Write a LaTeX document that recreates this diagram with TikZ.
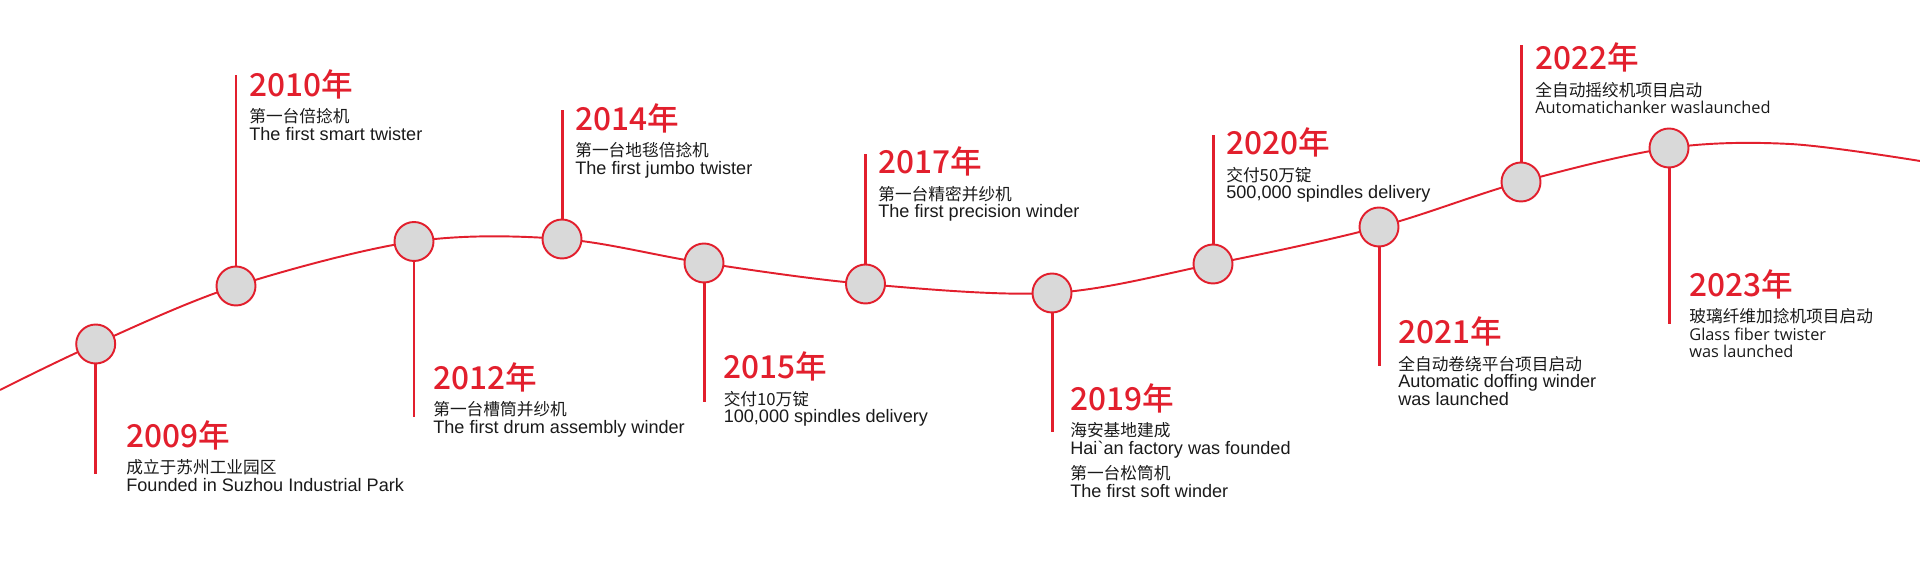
\documentclass[tikz,border=0pt]{standalone}
\usepackage{fontspec}
\setmainfont{Liberation Sans}
\newfontfamily\cjk{Noto Sans CJK SC}
\newfontfamily\cjkmed{Noto Sans CJK SC Medium}
\newfontfamily\yahei{Open Sans}
\usetikzlibrary{positioning}
\definecolor{tlred}{HTML}{E21F2D}
\definecolor{dotgray}{HTML}{D9D9D9}
\definecolor{ink}{HTML}{1A1A1A}
\newcommand\zh[1]{{\cjk\fontsize{9.5}{10.2}\selectfont #1}}

\begin{document}
\begin{tikzpicture}[x=0.02cm,y=-0.02cm,
    wave/.style={draw=tlred,line width=1.1pt},
    dot/.style={circle,draw=tlred,line width=1.1pt,fill=dotgray,minimum size=0.78cm,inner sep=0},
    stem/.style={draw=tlred,line width=1.7pt},
    year/.style={anchor=base west,inner sep=0,text=tlred,font=\cjkmed\fontsize{18}{18}\selectfont},
    desc/.style={anchor=north west,inner sep=0,text=ink,align=left,font=\fontsize{10.3}{10.2}\selectfont},
    descb/.style={desc,font=\yahei\fontsize{9.3}{9.8}\selectfont}]
  \useasboundingbox (0,0) rectangle (1920,570);

  \coordinate (w0) at (0,390);
  \coordinate (p2009) at (95.7,344);
  \coordinate (p2010) at (236,286);
  \coordinate (p2012) at (414,241.5);
  \coordinate (p2014) at (562,239);
  \coordinate (p2015) at (704,263);
  \coordinate (p2017) at (865.5,284);
  \coordinate (p2019) at (1052,293);
  \coordinate (p2020) at (1213,264);
  \coordinate (p2021) at (1379,227);
  \coordinate (p2022) at (1521,182);
  \coordinate (p2023) at (1669,148);
  \coordinate (w1) at (1790,144);
  \coordinate (w2) at (1920,161);

  \draw[wave] plot[smooth,tension=0.55] coordinates {(w0) (p2009) (p2010) (p2012) (p2014) (p2015)
    (p2017) (p2019) (p2020) (p2021) (p2022) (p2023) (w1) (w2)};

  \node[dot] (d2009) at (p2009) {};
  \node[dot] (d2010) at (p2010) {};
  \node[dot] (d2012) at (p2012) {};
  \node[dot] (d2014) at (p2014) {};
  \node[dot] (d2015) at (p2015) {};
  \node[dot] (d2017) at (p2017) {};
  \node[dot] (d2019) at (p2019) {};
  \node[dot] (d2020) at (p2020) {};
  \node[dot] (d2021) at (p2021) {};
  \node[dot] (d2022) at (p2022) {};
  \node[dot] (d2023) at (p2023) {};

  \coordinate (s2009) at (d2009 |- 0,474);
  \coordinate (s2010) at (d2010 |- 0,75);
  \coordinate (s2012) at (d2012 |- 0,417);
  \coordinate (s2014) at (d2014 |- 0,110);
  \coordinate (s2015) at (d2015 |- 0,402);
  \coordinate (s2017) at (d2017 |- 0,154);
  \coordinate (s2019) at (d2019 |- 0,432);
  \coordinate (s2020) at (d2020 |- 0,135);
  \coordinate (s2021) at (d2021 |- 0,366);
  \coordinate (s2022) at (d2022 |- 0,45);
  \coordinate (s2023) at (d2023 |- 0,324);

  \draw[stem] (d2009) -- (s2009);
  \draw[stem] (d2010) -- (s2010);
  \draw[stem] (d2012) -- (s2012);
  \draw[stem] (d2014) -- (s2014);
  \draw[stem] (d2015) -- (s2015);
  \draw[stem] (d2017) -- (s2017);
  \draw[stem] (d2019) -- (s2019);
  \draw[stem] (d2020) -- (s2020);
  \draw[stem] (d2021) -- (s2021);
  \draw[stem] (d2022) -- (s2022);
  \draw[stem] (d2023) -- (s2023);

  \node[year] (y2009) at (126,448) {2009年};
  \node[desc] (t2009) at (126,459.5) {\zh{成立于苏州工业园区}\\Founded in Suzhou Industrial Park};
  \node[year] (y2010) at (249,96.7) {2010年};
  \node[desc] (t2010) at (249,108.2) {\zh{第一台倍捻机}\\The first smart twister};
  \node[year] (y2012) at (433,389.3) {2012年};
  \node[desc] (t2012) at (433,400.8) {\zh{第一台槽筒并纱机}\\The first drum assembly winder};
  \node[year] (y2014) at (575,130.5) {2014年};
  \node[desc] (t2014) at (575,142) {\zh{第一台地毯倍捻机}\\The first jumbo twister};
  \node[year] (y2015) at (723.4,379) {2015年};
  \node[desc] (t2015) at (723.4,390.5) {\zh{交付10万锭}\\100,000 spindles delivery};
  \node[year] (y2017) at (878,174) {2017年};
  \node[desc] (t2017) at (878,185.5) {\zh{第一台精密并纱机}\\The first precision winder};
  \node[year] (y2019) at (1070,411) {2019年};
  \node[desc] (t2019) at (1070,422.5) {\zh{海安基地建成}\\Hai\textasciigrave an factory was founded\\[4pt]\zh{第一台松筒机}\\The first soft winder};
  \node[year] (y2020) at (1226,155) {2020年};
  \node[desc] (t2020) at (1226,166.5) {\zh{交付50万锭}\\500,000 spindles delivery};
  \node[year] (y2021) at (1398,344) {2021年};
  \node[desc] (t2021) at (1398,355.5) {\zh{全自动卷绕平台项目启动}\\Automatic doffing winder\\was launched};
  \node[year] (y2022) at (1535,70) {2022年};
  \node[descb] (t2022) at (1535,81.5) {\zh{全自动摇绞机项目启动}\\Automatichanker waslaunched};
  \node[year] (y2023) at (1689,297) {2023年};
  \node[descb] (t2023) at (1689,308.5) {\zh{玻璃纤维加捻机项目启动}\\Glass fiber twister\\was launched};
\end{tikzpicture}
\end{document}
